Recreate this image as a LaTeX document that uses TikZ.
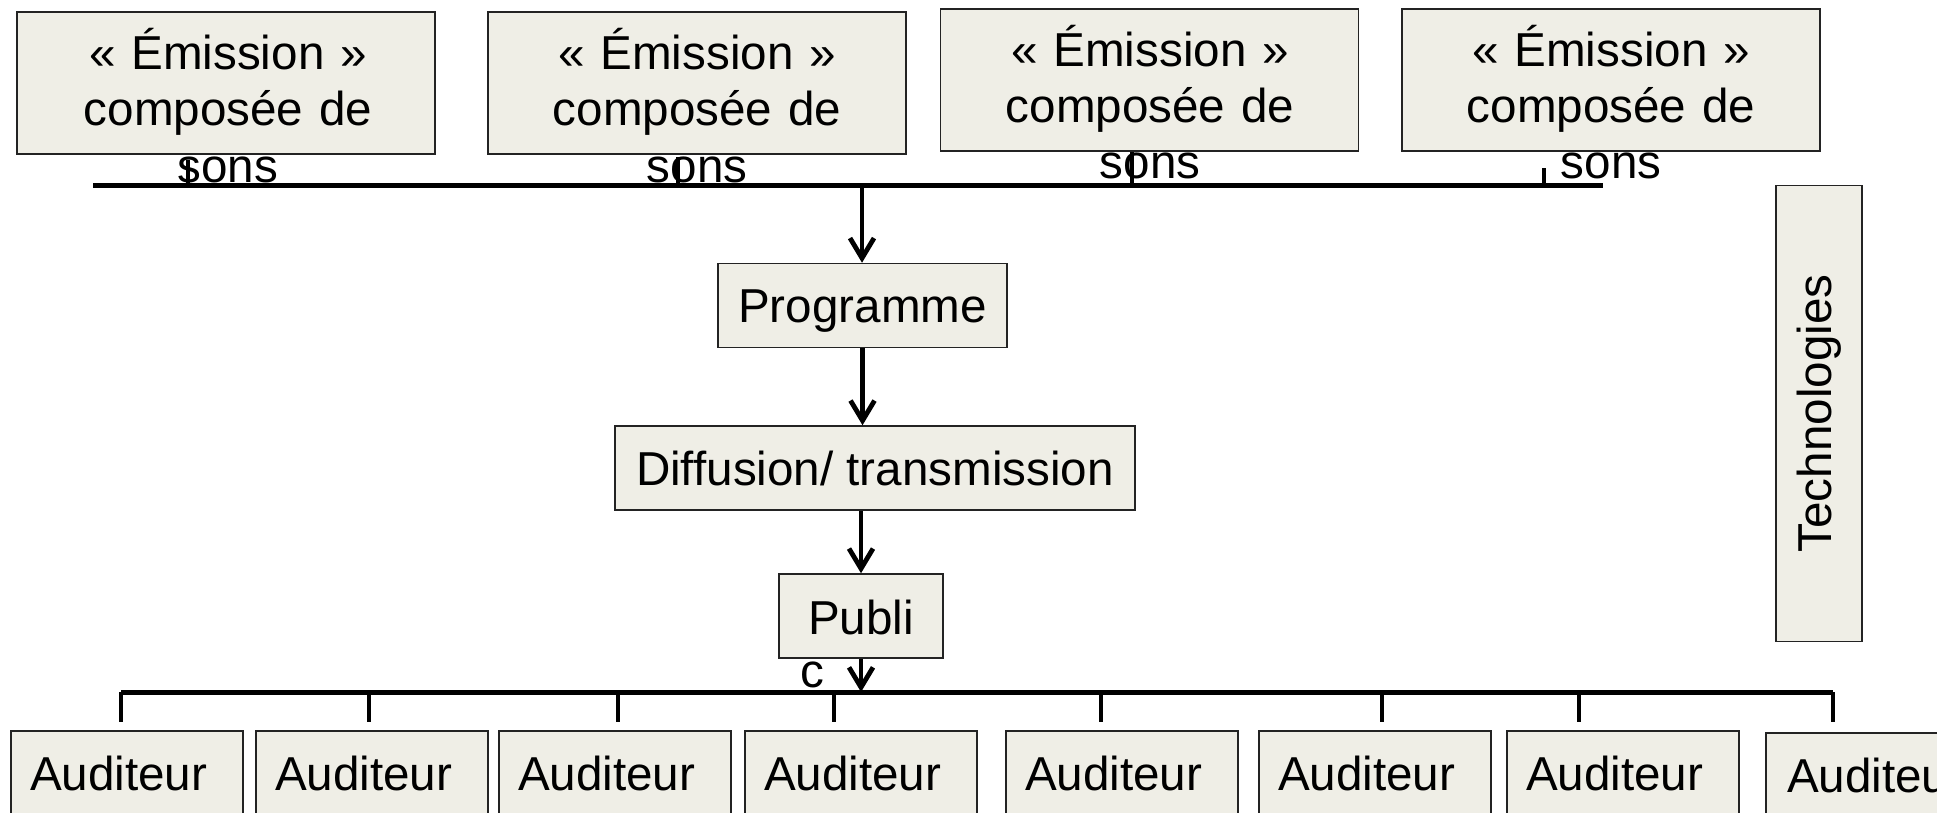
\documentclass[tikz,border=0pt]{standalone}
\usepackage{fontspec}
\setmainfont{Liberation Sans}
\usetikzlibrary{arrows.meta}
\definecolor{boxfill}{RGB}{239,238,230}
\definecolor{boxline}{RGB}{35,35,35}
\tikzset{
  box/.style={draw=boxline, fill=boxfill, line width=0.75pt, inner sep=0pt},
  lbl/.style={font=\fontsize{23.8}{28}\selectfont},
  bar/.style={line width=2.5pt},
  tickline/.style={line width=2.3pt},
  arr/.style={line width=2.4pt, -{Straight Barb[length=10pt,width=12pt]}},
  emi/.style={box, minimum width=209pt, minimum height=71pt},
  emitext/.style={lbl, text width=220pt, align=center, anchor=base, inner sep=0pt},
  aud/.style={box, lbl, anchor=north, minimum width=116pt, text width=97pt, align=left,
              inner xsep=9.5pt, inner ysep=0pt, text height=30pt, text depth=45pt},
  single/.style={box, lbl, text height=29.5pt, text depth=12.5pt}
}
\begin{document}
\begin{tikzpicture}[x=0.5pt,y=-0.5pt]
\useasboundingbox (0,0) rectangle (1937,813);

% top emission boxes
\node[emi] (e1) at (226,83) {};
\node[emi] (e2) at (697,83) {};
\node[emi] (e3) at (1149.5,80) {};
\node[emi] (e4) at (1611,80) {};

% top bar and ticks
\coordinate (tl) at (93,185);
\coordinate (tr) at (1603,185);
\coordinate (k1a) at (188,160); \coordinate (k1b) at (188,185);
\coordinate (k2a) at (678,157); \coordinate (k2b) at (678,185);
\coordinate (k3a) at (1132,152); \coordinate (k3b) at (1132,185);
\coordinate (k4a) at (1544,168); \coordinate (k4b) at (1544,185);
\draw[tickline] (k1a) -- (k1b);
\draw[tickline] (k2a) -- (k2b);
\draw[tickline] (k3a) -- (k3b);
\draw[tickline] (k4a) -- (k4b);

\node[emitext] (e1t) at (228,70) {« Émission »\\composée de\\sons};
\node[emitext] (e2t) at (697,70) {« Émission »\\composée de\\sons};
\node[emitext] (e3t) at (1150,67) {« Émission »\\composée de\\sons};
\node[emitext] (e4t) at (1611,67) {« Émission »\\composée de\\sons};

\draw[bar] (tl) -- (tr);

% central chain
\node[single, minimum width=144.5pt] (prog) at (862.5,305.5) {Programme};
\node[single, minimum width=260pt] (diff) at (875,468) {Diffusion/ transmission};
\node[box, lbl, minimum width=82pt, text height=30pt, text depth=12pt] (publi) at (861,616) {Publi};
\node[lbl, anchor=base, inner sep=0pt] (pc) at (812,687) {c};

\coordinate (jt) at (862,185);
\draw[arr] (jt) -- (jt |- prog.north);
\draw[arr] (prog.south) -- (prog.south |- diff.north);
\draw[arr] (diff.south -| publi.north) -- (publi.north);
\coordinate (jb) at (861,692);
\draw[arr] (publi.south) -- (jb);

% bottom bar and ticks
\coordinate (bl) at (121,692);
\coordinate (br) at (1833,692);
\foreach \x [count=\i] in {121,369,618,834,1101,1382,1579,1833}{
  \coordinate (d\i a) at (\x,692);
  \coordinate (d\i b) at (\x,722);
  \draw[tickline] (d\i a) -- (d\i b);
}
\draw[bar] (bl) -- (br);

% auditeurs
\node[aud, minimum width=115pt] (a1) at (127,730) {Auditeur};
\node[aud] (a2) at (372,730) {Auditeur};
\node[aud] (a3) at (615,730) {Auditeur};
\node[aud] (a4) at (861,730) {Auditeur};
\node[aud, minimum width=115pt] (a5) at (1122,730) {Auditeur};
\node[aud] (a6) at (1375,730) {Auditeur};
\node[aud] (a7) at (1623,730) {Auditeur};
\node[aud, inner xsep=10.5pt, text width=95pt] (a8) at (1882,732) {Auditeur};

% technologies
\node[box, lbl, rotate=90, minimum width=228pt, minimum height=43pt] (tech) at (1819,413.5) {Technologies};
\end{tikzpicture}
\end{document}
